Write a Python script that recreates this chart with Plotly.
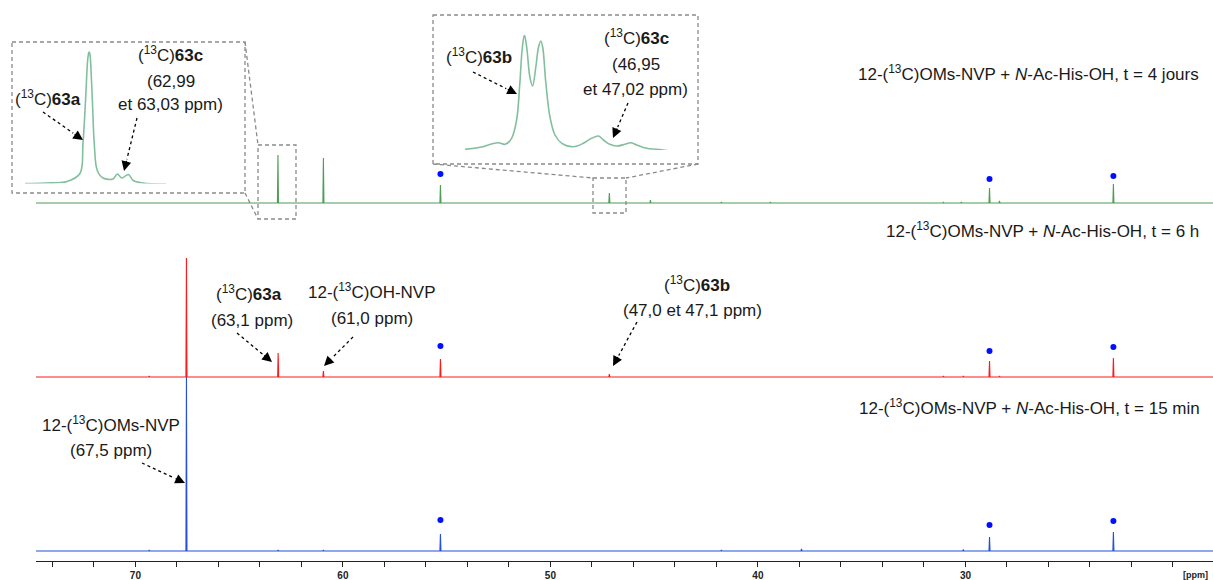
import plotly.graph_objects as go

# ---------------- data ----------------
# main spectra: peak positions (ppm) and intensities (arbitrary units)
blue_ppm = [69.33, 67.54, 63.12, 60.94, 55.30, 41.76, 37.90, 30.10, 28.84, 22.87]
blue_int = [1, 174, 1, 1, 17, 1, 2, 1.5, 14, 19]
red_ppm = [69.33, 67.54, 63.12, 60.94, 55.30, 47.16, 45.18, 31.06, 30.10, 28.84, 28.36, 22.87]
red_int = [1, 119, 24, 6, 18, 3, 0.5, 1, 1, 16, 1, 19]
green_ppm = [63.13, 60.94, 55.30, 47.16, 45.18, 41.76, 39.40, 31.06, 30.20, 28.84, 28.36, 22.87]
green_int = [48, 45, 18, 10, 3, 1, 1, 1, 1, 15, 2, 19]

# vertical offsets of the stacked spectra
offsets = {"blue": 10, "red": 184, "green": 358}

# marked (solvent) signals and marker heights above each baseline
dot_ppm = [55.30, 28.84, 22.87]
blue_dot = [31, 26, 30]
red_dot = [31, 26, 30]
green_dot = [29, 24, 27]

# inset 1 (green spectrum, 63a / 63c region)
ins1_ppm = [63.365, 63.292, 63.212, 63.165, 63.154, 63.144, 63.138, 63.135, 63.132, 63.128,
            63.126, 63.120, 63.113, 63.102, 63.081, 63.045, 63.029, 63.013, 62.989, 62.971,
            62.936, 62.852]
ins1_int = [0, 0.5, 2, 10, 40, 87, 120, 128, 132, 128,
            120, 84, 40, 13, 5.5, 4.5, 9.5, 5.5, 9, 3,
            0.5, -0.5]

# inset 2 (green spectrum, 63b / 63c region)
ins2_ppm = [47.313, 47.280, 47.255, 47.240, 47.225, 47.211, 47.200, 47.193, 47.188, 47.183,
            47.178, 47.171, 47.165, 47.158, 47.152, 47.147, 47.143, 47.136, 47.127, 47.116,
            47.101, 47.076, 47.054, 47.036, 47.021, 47.010, 46.996, 46.981, 46.963, 46.950,
            46.937, 46.915, 46.893, 46.868]
ins2_int = [0.7, 2.7, 6, 7.3, 5.7, 11.7, 30, 66.7, 100, 115,
            103, 73, 64, 83, 103, 109, 103, 67, 33, 15,
            6.7, 3.3, 6.7, 11.7, 14, 10, 5.7, 4, 5.7, 7.3,
            5, 1.7, 0.7, -0.7]

x_range = [74.79, 18.07]
major_ticks = [70, 60, 50, 40, 30]
major_labels = ["70", "60", "50", "40", "30"]
minor_ticks = list(range(74, 17, -2))

# ---------------- helpers ----------------
W, H = 1213, 580
FONT = "Liberation Sans, Arial, sans-serif"


def px(x):
    return x / W


def py(y):
    return (H - y) / H


def stick_spectrum(ppms, ints, offset, w=0.025):
    pairs = sorted(zip(ppms, ints), key=lambda p: -p[0])
    xs, ys = [x_range[0]], [offset]
    for c, h in pairs:
        xs += [c + w, c, c - w]
        ys += [offset, offset + h, offset]
    xs.append(x_range[1])
    ys.append(offset)
    return xs, ys


fig = go.Figure()

colors = {"blue": "#2350dc", "red": "#ff1a1a", "green": "#4f9c55"}
for name, ppms, ints in [("blue", blue_ppm, blue_int), ("red", red_ppm, red_int),
                         ("green", green_ppm, green_int)]:
    xs, ys = stick_spectrum(ppms, ints, offsets[name])
    fig.add_trace(go.Scatter(x=xs, y=ys, mode="lines", line=dict(color=colors[name], width=1.1),
                             hoverinfo="skip"))

for name, dh in [("blue", blue_dot), ("red", red_dot), ("green", green_dot)]:
    fig.add_trace(go.Scatter(x=dot_ppm, y=[offsets[name] + d for d in dh], mode="markers",
                             marker=dict(color="#0010ff", size=6), hoverinfo="skip"))

fig.add_trace(go.Scatter(x=ins1_ppm, y=ins1_int, mode="lines", line=dict(color="#82bf9e", width=1.6, shape="spline"),
                         xaxis="x2", yaxis="y2", hoverinfo="skip"))
fig.add_trace(go.Scatter(x=ins2_ppm, y=ins2_int, mode="lines", line=dict(color="#82bf9e", width=1.6, shape="spline"),
                         xaxis="x3", yaxis="y3", hoverinfo="skip"))

shapes = []
annotations = []

# dashed zoom boxes and connectors
GREY = "#8a8a8a"
DASH = "4px,3px"


def rect(x0, y0, x1, y1):
    shapes.append(dict(type="rect", xref="paper", yref="paper", x0=px(x0), x1=px(x1), y0=py(y0), y1=py(y1),
                       line=dict(color=GREY, width=1.3, dash=DASH)))


def gline(x0, y0, x1, y1):
    shapes.append(dict(type="line", xref="paper", yref="paper", x0=px(x0), x1=px(x1), y0=py(y0), y1=py(y1),
                       line=dict(color=GREY, width=1.3, dash=DASH)))


rect(12, 42, 245, 193)
rect(258, 145, 296, 219)
gline(245, 42, 258, 145)
gline(245, 193, 258, 219)
rect(433, 15, 698, 164)
rect(593, 178, 626, 213)
gline(433, 164, 593, 178)
gline(698, 164, 626, 178)


def arrow(x0, y0, x1, y1):
    dx, dy = x1 - x0, y1 - y0
    L = (dx * dx + dy * dy) ** 0.5
    ux, uy = dx / L, dy / L
    back = 12
    tx, ty = x1 - ux * back, y1 - uy * back
    shapes.append(dict(type="line", xref="paper", yref="paper", x0=px(x0), y0=py(y0), x1=px(tx), y1=py(ty),
                       line=dict(color="black", width=1.3, dash="3px,3px")))
    annotations.append(dict(x=px(x1), y=py(y1), xref="paper", yref="paper", text="", showarrow=True,
                            ax=-ux * back, ay=-uy * back, arrowhead=2, arrowsize=1.5, arrowwidth=1.3,
                            arrowcolor="black", standoff=0, startstandoff=0))


arrow(43, 112, 83, 140)
arrow(137, 118, 124, 171)
arrow(473, 72, 517, 94)
arrow(628, 103, 613, 138)
arrow(237, 333, 272, 362)
arrow(353, 337, 324, 366)
arrow(637, 322, 613, 366)
arrow(142, 463, 185, 483)


def label(text, x, y, anchor="center"):
    annotations.append(dict(x=px(x), y=py(y), xref="paper", yref="paper", text=text, showarrow=False,
                            xanchor=anchor, yanchor="middle",
                            font=dict(family=FONT, size=17, color="#1a1a1a")))


C13 = "(<sup>13</sup>C)"
label(C13 + "<b>63a</b>", 47.5, 98)
label(C13 + "<b>63c</b>", 170, 54)
label("(62,99", 171, 82)
label("et 63,03 ppm)", 170, 105)
label(C13 + "<b>63b</b>", 478.5, 56)
label(C13 + "<b>63c</b>", 636, 37)
label("(46,95", 636, 64)
label("et 47,02 ppm)", 635, 89)
label(C13 + "<b>63a</b>", 249, 293)
label("(63,1 ppm)", 252, 320)
label("12-" + C13 + "OH-NVP", 372, 291)
label("(61,0 ppm)", 372, 318)
label(C13 + "<b>63b</b>", 697, 284)
label("(47,0 et 47,1 ppm)", 692, 310)
label("12-" + C13 + "OMs-NVP", 111, 424)
label("(67,5 ppm)", 111, 450)

base = "12-" + C13 + "OMs-NVP + <i>N</i>-Ac-His-OH, t = "
label(base + "4 jours", 1201, 73, "right")
label(base + "6 h", 1201, 230, "right")
label(base + "15 min", 1202, 407, "right")

annotations.append(dict(x=px(1210), y=py(575), xref="paper", yref="paper", text="<b>[ppm]</b>",
                        showarrow=False, xanchor="right", yanchor="middle",
                        font=dict(family=FONT, size=9, color="#222222")))

fig.update_layout(
    width=W, height=H,
    margin=dict(l=0, r=0, t=0, b=0),
    paper_bgcolor="white", plot_bgcolor="white",
    showlegend=False,
    shapes=shapes, annotations=annotations,
    xaxis=dict(domain=[36 / W, 1], range=x_range, showgrid=False, zeroline=False,
               showline=True, linecolor="#222222", linewidth=1,
               ticks="outside", ticklen=5, tickcolor="#222222", tickwidth=1,
               tickmode="array", tickvals=major_ticks, ticktext=["<b>%s</b>" % t for t in major_labels],
               tickfont=dict(family=FONT, size=10, color="#222222"),
               minor=dict(tickmode="array", tickvals=minor_ticks, ticks="outside", ticklen=5,
                          tickcolor="#222222", tickwidth=1, showgrid=False)),
    yaxis=dict(domain=[19 / H, 1], range=[0, 561], visible=False),
    xaxis2=dict(domain=[25 / W, 166 / W], range=[63.365, 62.852], visible=False, anchor="y2"),
    yaxis2=dict(domain=[py(183.5), py(51.5)], range=[0, 132], visible=False, anchor="x2"),
    xaxis3=dict(domain=[465 / W, 668.3 / W], range=[47.313, 46.868], visible=False, anchor="y3"),
    yaxis3=dict(domain=[py(150), py(35)], range=[0, 115], visible=False, anchor="x3"),
)

fig.write_html("out.html", config={"displayModeBar": False},
               post_script="document.body.style.margin='0px';")
